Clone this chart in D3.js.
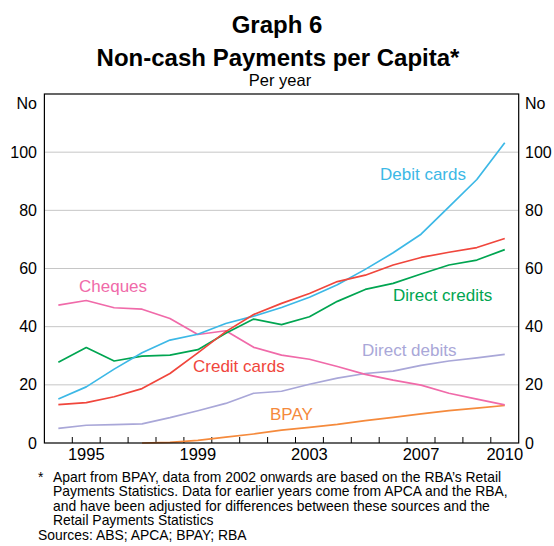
<!DOCTYPE html>
<html><head><meta charset="utf-8">
<script src="https://cdn.jsdelivr.net/npm/d3@7"></script>
<style>
html,body{margin:0;padding:0;background:#fff;}
svg text{font-family:"Liberation Sans",Arial,sans-serif;fill:#000;}
</style></head>
<body>
<svg id="c" width="554" height="546"></svg>
<script>
const years = [1994,1995,1996,1997,1998,1999,2000,2001,2002,2003,2004,2005,2006,2007,2008,2009,2010];
const cheques = [47.4,49.0,46.5,46.0,42.8,37.3,38.6,32.9,30.2,28.8,26.3,23.6,21.6,19.9,17.1,15.1,13.1];
const debitCards = [15.1,19.3,25.4,31.0,35.4,37.4,41.1,43.6,46.6,50.1,54.4,59.7,65.4,71.8,81.2,90.6,103.2];
const creditCards = [13.2,13.9,15.9,18.7,23.9,31.0,38.3,44.2,48.0,51.4,55.5,57.7,61.2,63.8,65.6,67.2,70.3];
const directCredits = [27.8,32.8,28.2,29.9,30.2,32.1,37.7,42.6,40.7,43.4,48.7,52.8,54.9,58.1,61.2,62.9,66.5];
const directDebits = [5.0,6.1,6.3,6.6,8.7,11.1,13.6,17.1,17.8,20.2,22.3,23.9,24.7,26.7,28.2,29.3,30.5];
const bpay = [null,null,null,0.0,0.2,0.9,2.0,3.1,4.4,5.4,6.4,7.7,8.8,10.0,11.1,12.0,12.9];
const yTicks = [0,20,40,60,80,100];
const xTickLabels = [1995,1999,2003,2007,2010];

const series = [
  {name:"Direct debits", values:directDebits, color:"#a9a7d8", lx:362, ly:356},
  {name:"BPAY", values:bpay, color:"#f58a3c", lx:270, ly:420},
  {name:"Cheques", values:cheques, color:"#f06aa9", lx:79, ly:292},
  {name:"Direct credits", values:directCredits, color:"#00a551", lx:393, ly:301},
  {name:"Debit cards", values:debitCards, color:"#3cb8e6", lx:380, ly:180},
  {name:"Credit cards", values:creditCards, color:"#f0463c", lx:193, ly:372}
];

const svg = d3.select("#c");
const L = 44.4, R = 518.7, T = 94, B = 443;
const x = d3.scaleLinear().domain([1994, 2011]).range([L, R]);
const y = d3.scaleLinear().domain([0, 120]).range([B, T]);

// titles
svg.append("text").attr("x", 277).attr("y", 33).attr("text-anchor","middle")
  .style("font-size","24px").style("font-weight","bold").text("Graph 6");
svg.append("text").attr("x", 278).attr("y", 66).attr("text-anchor","middle")
  .style("font-size","24px").style("font-weight","bold").text("Non-cash Payments per Capita*");
svg.append("text").attr("x", 280).attr("y", 86).attr("text-anchor","middle")
  .style("font-size","16.5px").text("Per year");

// gridlines
svg.append("g").selectAll("line").data(yTicks.filter(d => d > 0)).join("line")
  .attr("x1", L).attr("x2", R).attr("y1", d => y(d)).attr("y2", d => y(d))
  .attr("stroke", "#c6c6c6").attr("stroke-width", 1);

// year ticks (inside, at year boundaries)
const bounds = d3.range(1995, 2011);
svg.append("g").selectAll("line").data(bounds).join("line")
  .attr("x1", d => x(d)).attr("x2", d => x(d)).attr("y1", B).attr("y2", B - 6)
  .attr("stroke", "#000").attr("stroke-width", 1);

// y axis labels
const yl = svg.append("g").style("font-size","16px");
yl.selectAll("text.l").data(yTicks).join("text").attr("class","l")
  .attr("x", 37).attr("y", d => y(d)).attr("dy","0.35em").attr("text-anchor","end").text(d => d);
yl.selectAll("text.r").data(yTicks).join("text").attr("class","r")
  .attr("x", 525).attr("y", d => y(d)).attr("dy","0.35em").attr("text-anchor","start").text(d => d);
yl.append("text").attr("x", 37).attr("y", 109).attr("text-anchor","end").text("No");
yl.append("text").attr("x", 525).attr("y", 109).attr("text-anchor","start").text("No");

// x labels
svg.append("g").style("font-size","16.5px").selectAll("text").data(xTickLabels).join("text")
  .attr("x", d => x(d + 0.5)).attr("y", 460).attr("text-anchor","middle").text(d => d);

// lines
const line = d3.line().defined(d => d.v !== null).x(d => x(d.yr + 0.5)).y(d => y(d.v));
series.forEach(s => {
  const pts = years.map((yr, i) => ({yr, v: s.values[i]}));
  svg.append("path").datum(pts).attr("d", line).attr("fill","none")
    .attr("stroke", s.color).attr("stroke-width", 1.7).attr("stroke-linejoin","round");
});
series.forEach(s => {
  svg.append("text").attr("x", s.lx).attr("y", s.ly).style("font-size","17px")
    .style("fill", s.color).text(s.name);
});

// frame
svg.append("rect").attr("x", L).attr("y", T).attr("width", R - L).attr("height", B - T)
  .attr("fill","none").attr("stroke","#000").attr("stroke-width",1.2);

// footnotes
const fn = svg.append("g").style("font-size","13.9px");
fn.append("text").attr("x", 38).attr("y", 481.5).text("*");
const noteLines = [
  "Apart from BPAY, data from 2002 onwards are based on the RBA\u2019s Retail",
  "Payments Statistics. Data for earlier years come from APCA and the RBA,",
  "and have been adjusted for differences between these sources and the",
  "Retail Payments Statistics"
];
noteLines.forEach((t, i) => fn.append("text").attr("x", 53).attr("y", 481.5 + i * 14.6).text(t));
fn.append("text").attr("x", 38).attr("y", 540).text("Sources: ABS; APCA; BPAY; RBA");
</script>
</body></html>
